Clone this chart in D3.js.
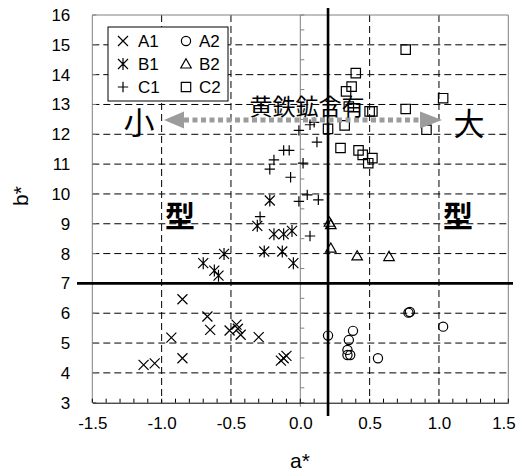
<!DOCTYPE html>
<html><head><meta charset="utf-8">
<script src="https://cdn.jsdelivr.net/npm/d3@7"></script>
<style>body{margin:0;background:#fff}svg{display:block}</style>
</head><body>
<svg id="c" width="516" height="471"></svg>
<script>
// ---- data ----
const A1 = [[-0.85,6.47],[-0.67,5.89],[-0.65,5.44],[-0.93,5.18],[-0.85,4.49],[-1.13,4.27],[-1.05,4.32],
  [-0.51,5.42],[-0.46,5.62],[-0.45,5.48],[-0.43,5.28],[-0.30,5.20],[-0.14,4.41],[-0.12,4.49],[-0.10,4.57]];
const A2 = [[0.20,5.25],[0.38,5.41],[0.35,5.10],[0.34,4.77],[0.34,4.60],[0.36,4.60],[0.56,4.49],[0.78,6.02],[0.79,6.04],[1.03,5.55]];
const B1 = [[-0.70,7.68],[-0.62,7.43],[-0.59,7.26],[-0.55,7.99],[-0.31,8.93],[-0.22,9.78],[-0.26,8.07],
  [-0.19,8.65],[-0.12,8.65],[-0.06,8.76],[-0.13,8.07],[-0.05,7.68]];
const B2 = [[0.21,9.05],[0.22,8.97],[0.22,8.18],[0.41,7.92],[0.64,7.90]];
const C1 = [[-0.01,12.13],[0.07,12.32],[0.10,12.40],[0.12,11.74],[-0.12,11.46],[-0.08,11.46],[-0.19,11.14],
  [-0.22,10.83],[-0.07,10.56],[0.02,11.03],[0.05,9.97],[-0.01,9.75],[0.13,9.80],[0.07,8.59],[-0.29,9.24]];
const C2 = [[0.76,14.84],[0.40,14.05],[0.37,13.60],[0.33,13.44],[1.03,13.21],[0.50,12.77],[0.52,12.77],
  [0.76,12.85],[0.20,12.18],[0.32,12.30],[0.91,12.15],[0.29,11.54],[0.42,11.46],[0.45,11.31],[0.52,11.20],
  [0.49,11.03],[0.35,12.93]];
const xTicks = [-1.5,-1.0,-0.5,0.0,0.5,1.0,1.5];
const xTickLabels = ["-1.5","-1.0","-0.5","0.0","0.5","1.0","1.5"];
const yTicks = [3,4,5,6,7,8,9,10,11,12,13,14,15,16];
const seriesNames = ["A1","A2","B1","B2","C1","C2"];
const annotation = "黄鉄鉱含有";
const smallLabel = "小", largeLabel = "大", typeLabel = "型";
const dividerA = 0.2, dividerB = 7;

// ---- layout ----
const svg = d3.select("#c");
const x = d3.scaleLinear().domain([-1.5,1.5]).range([92.3,508.3]);
const y = d3.scaleLinear().domain([3,16]).range([402.7,15]);
const font = "Liberation Sans, Arial, sans-serif";
const cjk = "Noto Sans CJK JP, sans-serif";

// gridlines
const g = svg.append("g");
yTicks.filter(v => v!==3 && v!==16 && v!==7).forEach(v => {
  g.append("line").attr("x1",x(-1.5)).attr("x2",x(1.5)).attr("y1",y(v)).attr("y2",y(v))
   .attr("stroke","#000").attr("stroke-width",1).attr("stroke-dasharray","7,4");
});
[-1.0,-0.5,0.5,1.0].forEach(v => {
  g.append("line").attr("x1",x(v)).attr("x2",x(v)).attr("y1",y(16)).attr("y2",y(3))
   .attr("stroke","#000").attr("stroke-width",1).attr("stroke-dasharray","7,4");
});
// border
g.append("path").attr("d",`M${x(-1.5)},${y(3)}V${y(16)}H${x(1.5)}V${y(3)}`)
 .attr("fill","none").attr("stroke","#808080").attr("stroke-width",1);
// y axis at a*=0
g.append("line").attr("x1",x(0)).attr("x2",x(0)).attr("y1",y(16)).attr("y2",y(3)+4)
 .attr("stroke","#808080").attr("stroke-width",1);
d3.range(3,16.01,0.5).forEach(v => {
  g.append("line").attr("x1",x(0)).attr("x2",x(0)+4).attr("y1",y(v)).attr("y2",y(v))
   .attr("stroke","#808080").attr("stroke-width",1);
});
// left border ticks
yTicks.forEach(v => {
  g.append("line").attr("x1",x(-1.5)).attr("x2",x(-1.5)+4).attr("y1",y(v)).attr("y2",y(v))
   .attr("stroke","#808080").attr("stroke-width",1);
});
// bottom axis
const xAxis = d3.axisBottom(x).tickValues(xTicks).tickFormat((d,i)=>xTickLabels[i]).tickSize(0).tickPadding(14);
const ax = svg.append("g").attr("transform",`translate(0,${y(3)})`).call(xAxis);
ax.select(".domain").attr("stroke","#000");
ax.selectAll("text").attr("font-family",font).attr("font-size",17).attr("fill","#000");
// keep the last label inside the window
ax.selectAll(".tick").filter(d => d === 1.5).select("text").attr("text-anchor","end").attr("dx",7);
d3.range(-1.5,1.501,0.1).forEach(v => {
  g.append("line").attr("x1",x(v)).attr("x2",x(v)).attr("y1",y(3)).attr("y2",y(3)-4)
   .attr("stroke","#000").attr("stroke-width",1);
});
// y labels
const yAxis = d3.axisLeft(y).tickValues(yTicks).tickSize(0).tickPadding(22);
const ay = svg.append("g").attr("transform",`translate(${x(-1.5)},0)`).call(yAxis);
ay.select(".domain").remove();
ay.selectAll("text").attr("font-family",font).attr("font-size",17).attr("fill","#000");

// thick divider lines
svg.append("line").attr("x1",x(dividerA)).attr("x2",x(dividerA)).attr("y1",8).attr("y2",416)
 .attr("stroke","#000").attr("stroke-width",2.6);
svg.append("line").attr("x1",77).attr("x2",513).attr("y1",y(dividerB)).attr("y2",y(dividerB))
 .attr("stroke","#000").attr("stroke-width",2.6);

// markers
const mk = {
  x: s => `M${-s},${-s}L${s},${s}M${-s},${s}L${s},${-s}`,
  ast: s => `M${-s},${-s}L${s},${s}M${-s},${s}L${s},${-s}M0,${-s*1.2}V${s*1.2}`,
  plus: s => `M${-s},0H${s}M0,${-s}V${s}`,
  circ: s => `M${s},0A${s},${s} 0 1,1 ${-s},0A${s},${s} 0 1,1 ${s},0Z`,
  tri: s => `M0,${-s*1.05}L${s*1.05},${s*0.8}L${-s*1.05},${s*0.8}Z`,
  sq: s => `M${-s},${-s}H${s}V${s}H${-s}Z`
};
const sets = [[A1,"x",5],[A2,"circ",4.6],[B1,"ast",5],[B2,"tri",5],[C1,"plus",5.2],[C2,"sq",4.7]];
const pg = svg.append("g");
sets.forEach(([data,shape,s]) => {
  pg.selectAll(null).data(data).enter().append("path")
    .attr("transform",d=>`translate(${x(d[0])},${y(d[1])})`)
    .attr("d",mk[shape](s)).attr("fill","none").attr("stroke","#000").attr("stroke-width",1.2);
});

// legend
const lg = svg.append("g");
lg.append("rect").attr("x",108).attr("y",27).attr("width",120).attr("height",74)
  .attr("fill","#fff").attr("stroke","#000").attr("stroke-width",1);
const legShapes = ["x","circ","ast","tri","plus","sq"];
seriesNames.forEach((n,i) => {
  const col = i%2, row = Math.floor(i/2);
  const sx = col ? 186 : 123, tx = col ? 199 : 138, cy = 41 + row*23;
  const sz = sets[i][2];
  lg.append("path").attr("transform",`translate(${sx},${cy})`).attr("d",mk[legShapes[i]](sz))
    .attr("fill","none").attr("stroke","#000").attr("stroke-width",1.2);
  lg.append("text").attr("x",tx).attr("y",cy+6).text(n)
    .attr("font-family",font).attr("font-size",17).attr("fill","#000");
});

// arrow
const ag = svg.append("g");
ag.append("line").attr("x1",184).attr("x2",420).attr("y1",120).attr("y2",120)
  .attr("stroke","#9c9c9c").attr("stroke-width",5).attr("stroke-dasharray","5,3.5");
ag.append("path").attr("d","M164,120L184,111.5L184,128.5Z").attr("fill","#9c9c9c");
ag.append("path").attr("d","M442,120L420,111.5L420,128.5Z").attr("fill","#9c9c9c");

// annotation texts
svg.append("text").attr("x",307).attr("y",105).attr("text-anchor","middle").attr("dominant-baseline","central")
  .attr("font-family",cjk).attr("font-size",23).attr("fill","#000").text(annotation);
svg.append("text").attr("x",139).attr("y",120).attr("text-anchor","middle").attr("dominant-baseline","central")
  .attr("font-family",cjk).attr("font-size",31).attr("fill","#000").text(smallLabel);
svg.append("text").attr("x",469).attr("y",121).attr("text-anchor","middle").attr("dominant-baseline","central")
  .attr("font-family",cjk).attr("font-size",31).attr("fill","#000").text(largeLabel);
[[180,214],[458,214]].forEach(([cx,cy]) => {
  svg.append("text").attr("x",cx).attr("y",cy).attr("text-anchor","middle").attr("dominant-baseline","central")
    .attr("font-family",cjk).attr("font-size",30).attr("font-weight","bold").attr("fill","#000").text(typeLabel);
});

// axis titles
svg.append("text").attr("x",300).attr("y",468).attr("text-anchor","middle")
  .attr("font-family",font).attr("font-size",21).attr("fill","#000").text("a*");
svg.append("text").attr("transform","translate(28,196) rotate(-90)").attr("text-anchor","middle")
  .attr("font-family",font).attr("font-size",21).attr("fill","#000").text("b*");
</script>
</body></html>
